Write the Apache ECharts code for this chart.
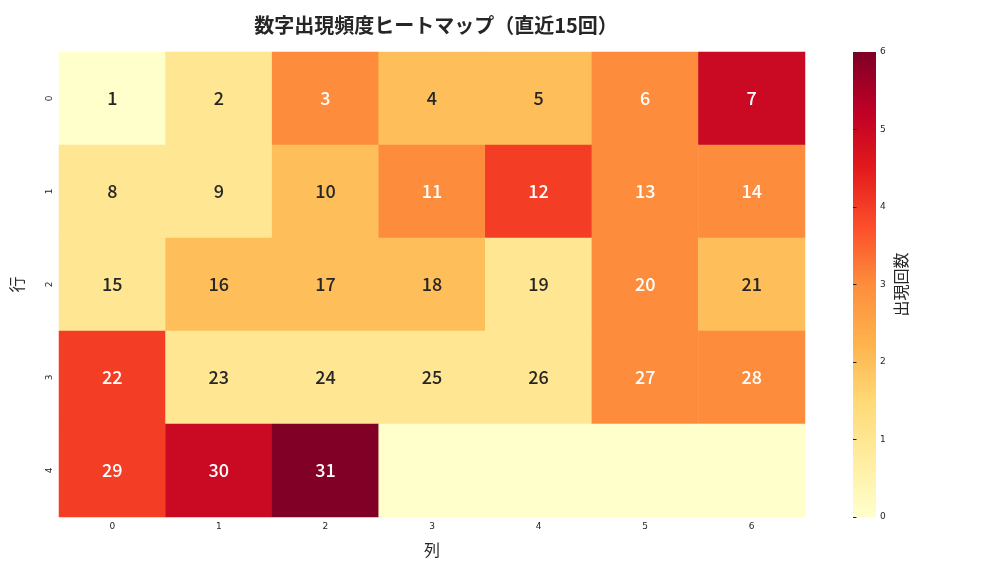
<!DOCTYPE html>
<html><head><meta charset="utf-8">
<script src="https://cdn.jsdelivr.net/npm/echarts@6/dist/echarts.min.js"></script>
<style>html,body{margin:0;padding:0;background:#fff}#c{width:1008px;height:576px}</style>
</head><body><div id="c"></div>
<script>
const cols = ['0','1','2','3','4','5','6'];
const rows = ['0','1','2','3','4'];
const counts = [
  [0,1,3,2,2,3,5],
  [1,1,2,3,4,3,3],
  [1,2,2,2,1,3,2],
  [4,1,1,1,1,3,3],
  [4,5,6,0,0,0,0]
];
const annot = [
  ['1','2','3','4','5','6','7'],
  ['8','9','10','11','12','13','14'],
  ['15','16','17','18','19','20','21'],
  ['22','23','24','25','26','27','28'],
  ['29','30','31','','','','']
];
const cbTicks = [0,1,2,3,4,5,6];
const ylorrd = ['#ffffcc','#ffeda0','#fed976','#feb24c','#fd8d3c','#fc4e2a','#e31a1c','#bd0026','#800026'];

const data = [];
rows.forEach((r,i)=>cols.forEach((c,j)=>{
  data.push({value:[j,i,counts[i][j]], label:{color: counts[i][j]>=3?'#ffffff':'#262626'}, annot: annot[i][j]});
}));

const font = 'DejaVu Sans';
const jp = 'Noto Sans CJK JP';
const chart = echarts.init(document.getElementById('c'));
chart.setOption({
  animation:false,
  title:{text:'数字出現頻度ヒートマップ（直近15回）', left:431, top:10, textAlign:'center',
    textStyle:{fontFamily:jp, fontSize:20, fontWeight:'bold', color:'#262626'}},
  grid:[
    {left:59, top:52, width:746, height:465},
    {left:853, top:52, width:23, height:465}
  ],
  graphic:[{type:'rect', left:853, top:52, z:-1, shape:{width:23, height:465},
    style:{fill:new echarts.graphic.LinearGradient(0,1,0,0,
      ylorrd.map((c,i)=>({offset:i/(ylorrd.length-1), color:c})))}}],
  xAxis:[
    {type:'category', data:cols, gridIndex:0, name:'列', nameLocation:'middle', nameGap:25,
      nameTextStyle:{fontFamily:jp, fontSize:16, color:'#262626'},
      axisLine:{show:false}, axisTick:{alignWithLabel:true, length:3.5, lineStyle:{color:'#262626'}},
      axisLabel:{fontFamily:font, fontSize:9, color:'#262626', margin:5}, splitLine:{show:false}},
    {type:'value', gridIndex:1, show:true, min:0, max:1,
      axisLine:{show:false}, axisTick:{show:false}, axisLabel:{show:false}, splitLine:{show:false}}
  ],
  yAxis:[
    {type:'category', data:rows, gridIndex:0, inverse:true, name:'行', nameLocation:'middle', nameGap:34, nameRotate:90,
      nameTextStyle:{fontFamily:jp, fontSize:16, color:'#262626'},
      axisLine:{show:false}, axisTick:{alignWithLabel:true, length:3.5, lineStyle:{color:'#262626'}},
      axisLabel:{fontFamily:font, fontSize:9, color:'#262626', rotate:90, margin:5}, splitLine:{show:false}},
    {type:'value', gridIndex:1, position:'right', min:0, max:6, interval:1,
      name:'出現回数', nameLocation:'middle', nameGap:17, nameRotate:90,
      nameTextStyle:{fontFamily:jp, fontSize:16, color:'#262626'},
      axisLine:{show:false}, axisTick:{show:true, length:3.5, lineStyle:{color:'#262626'}},
      axisLabel:{fontFamily:font, fontSize:9, color:'#262626', margin:4}, splitLine:{show:false}}
  ],
  visualMap:{type:'continuous', min:0, max:6, seriesIndex:0, show:false, inRange:{color:ylorrd}},
  series:[{type:'heatmap', xAxisIndex:0, yAxisIndex:0, data:data,
    label:{show:true, fontFamily:jp, fontWeight:500, fontSize:18, formatter:p=>p.data.annot},
    itemStyle:{borderWidth:0}, emphasis:{disabled:true}}]
});
</script></body></html>
